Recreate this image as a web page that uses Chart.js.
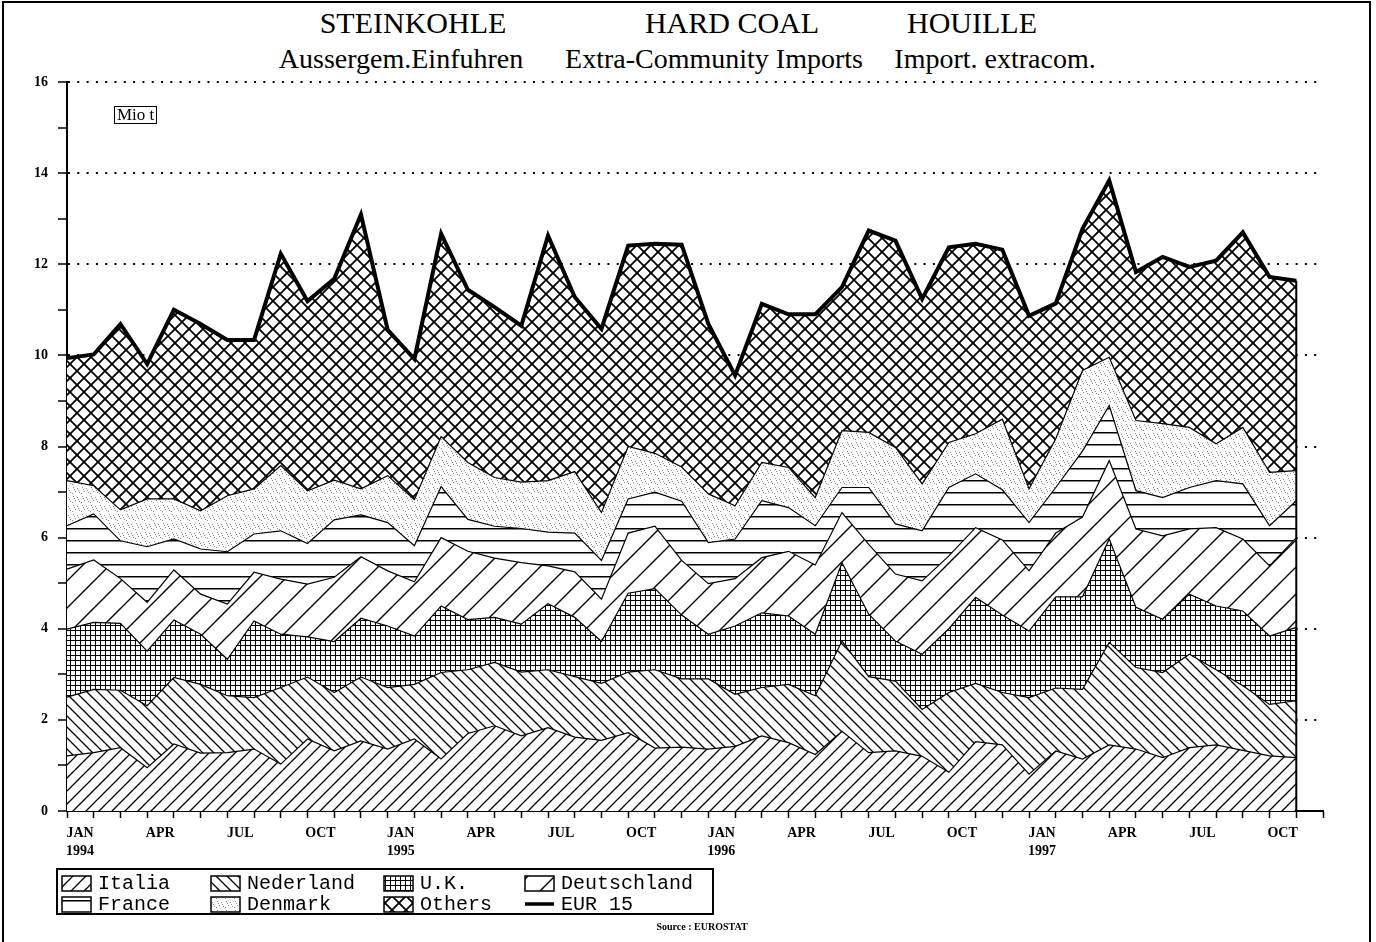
<!DOCTYPE html>
<html>
<head>
<meta charset="utf-8">
<script src="https://cdn.jsdelivr.net/npm/chart.js@4/dist/chart.umd.min.js"></script>
<style>
  html, body { margin: 0; padding: 0; background: #fff; }
  body { width: 1376px; height: 942px; position: relative; overflow: hidden; font-family: "Liberation Serif", serif; color: #000; }
  #frame { position: absolute; left: 2px; top: 1px; width: 1369px; height: 980px; border: 2px solid #000; box-sizing: border-box; }
  #chart { position: absolute; left: 0; top: 0; }
  .t { position: absolute; transform: translateX(-50%); white-space: nowrap; line-height: 1; }
  .title { font-size: 30px; top: 8px; }
  .sub { font-size: 28px; top: 45px; }
  #unit { position: absolute; left: 114px; top: 106px; border: 1.5px solid #000; font-size: 17px; line-height: 16px; padding: 0 2px; }
  #source { position: absolute; left: 702px; top: 921px; transform: translateX(-50%); font-size: 10px; font-weight: bold; white-space: nowrap; }
</style>
</head>
<body>
<div id="frame"></div>
<div class="t title" style="left:413px">STEINKOHLE</div>
<div class="t title" style="left:732px">HARD COAL</div>
<div class="t title" style="left:972px">HOUILLE</div>
<div class="t sub" style="left:401px">Aussergem.Einfuhren</div>
<div class="t sub" style="left:714px">Extra-Community Imports</div>
<div class="t sub" style="left:995px">Import. extracom.</div>
<canvas id="chart" width="1376" height="942"></canvas>
<div id="unit">Mio t</div>
<div id="source">Source : EUROSTAT</div>
<script>
const months = ['JAN','FEB','MAR','APR','MAY','JUN','JUL','AUG','SEP','OCT','NOV','DEC'];
const years = [1994, 1995, 1996, 1997];

// Mio t, Jan 1994 .. Nov 1997 (bottom of the stack first)
const italia      = [1.21,1.28,1.39,0.95,1.47,1.27,1.28,1.36,1.03,1.58,1.32,1.54,1.36,1.58,1.14,1.70,1.87,1.65,1.83,1.62,1.55,1.72,1.38,1.40,1.36,1.42,1.65,1.50,1.24,1.75,1.28,1.32,1.20,0.85,1.52,1.45,0.81,1.32,1.14,1.45,1.36,1.17,1.39,1.45,1.33,1.21,1.17];
const nederland   = [1.29,1.39,1.26,1.36,1.46,1.51,1.25,1.13,1.68,1.36,1.28,1.40,1.35,1.20,1.90,1.40,1.39,1.40,1.27,1.33,1.25,1.33,1.72,1.50,1.54,1.14,1.06,1.28,1.29,1.98,1.67,1.53,1.03,1.75,1.28,1.15,1.68,1.38,1.53,2.25,1.79,1.87,2.05,1.65,1.42,1.13,1.25];
const uk          = [1.49,1.47,1.47,1.20,1.26,1.10,0.80,1.68,1.17,0.88,1.12,1.29,1.35,1.06,1.46,1.10,0.99,1.05,1.45,1.30,0.92,1.73,1.78,1.40,0.98,1.50,1.64,1.50,1.35,1.72,1.37,0.88,1.21,1.40,1.89,1.70,1.46,2.00,2.03,2.27,1.32,1.17,1.32,1.40,1.64,1.50,1.61];
const deutschland = [1.32,1.37,0.98,1.07,1.10,0.88,1.21,1.07,1.21,1.16,1.41,1.35,1.21,1.19,1.50,1.50,1.30,1.35,0.83,1.00,0.93,1.32,1.37,1.20,1.11,1.04,1.21,1.42,1.52,1.10,1.53,1.47,1.61,1.60,1.53,1.65,1.32,1.40,1.75,1.72,1.72,1.83,1.43,1.72,1.58,1.54,1.97];
const france      = [0.95,1.01,0.83,1.22,0.68,0.99,1.15,0.84,1.06,0.89,1.26,0.92,1.06,0.79,1.12,0.70,0.70,0.75,0.74,0.85,0.85,0.75,0.75,1.30,0.90,0.87,1.25,0.96,0.86,0.55,1.25,1.10,1.10,1.50,1.18,1.10,1.06,1.00,1.45,1.21,0.84,0.84,0.91,1.03,1.21,0.88,0.81];
const denmark     = [0.99,0.62,0.68,1.05,0.88,0.84,1.23,0.99,1.43,1.16,0.87,0.57,1.03,1.01,1.10,1.25,1.07,1.02,1.13,1.35,1.05,1.15,0.85,0.75,1.07,0.73,0.84,0.88,0.62,1.25,1.21,1.68,1.03,0.99,0.88,1.55,0.74,1.07,1.77,1.06,1.54,1.62,1.32,0.81,1.24,1.17,0.66];
const others      = [2.69,2.88,4.08,2.96,4.15,4.10,3.42,3.27,4.65,4.16,4.42,6.02,3.20,3.09,4.45,3.79,3.74,3.43,5.38,3.83,4.03,4.41,4.60,4.88,3.73,2.86,3.48,3.36,4.02,3.15,4.43,4.54,4.06,4.28,4.17,3.72,3.80,2.97,3.11,3.88,3.26,3.66,3.52,4.02,4.28,4.29,4.17];
const eur15       = [9.94,10.02,10.69,9.81,11.00,10.69,10.34,10.34,12.23,11.19,11.68,13.09,10.56,9.92,12.67,11.44,11.06,10.65,12.63,11.28,10.58,12.41,12.45,12.43,10.69,9.56,11.13,10.90,10.90,11.50,12.74,12.52,11.24,12.37,12.45,12.32,10.87,11.14,12.78,13.84,11.83,12.16,11.94,12.08,12.70,11.72,11.64];

const labels = [];
years.forEach(yr => months.forEach(m => labels.push(m + ' ' + yr)));

const ctx = document.getElementById('chart').getContext('2d');

function tile(w, h, draw) {
    const c = document.createElement('canvas');
    c.width = w; c.height = h;
    const g = c.getContext('2d');
    g.fillStyle = '#fff';
    g.fillRect(0, 0, w, h);
    g.strokeStyle = '#000';
    g.fillStyle = '#000';
    draw(g, w, h);
    return ctx.createPattern(c, 'repeat');
}

function fwd(g, s, lw) {   // lines like /
    g.lineWidth = lw;
    g.beginPath();
    g.moveTo(0, s); g.lineTo(s, 0);
    g.moveTo(-2, 2); g.lineTo(2, -2);
    g.moveTo(s - 2, s + 2); g.lineTo(s + 2, s - 2);
    g.stroke();
}
function back(g, s, lw) {  // lines like \
    g.lineWidth = lw;
    g.beginPath();
    g.moveTo(0, 0); g.lineTo(s, s);
    g.moveTo(s - 2, -2); g.lineTo(s + 2, 2);
    g.moveTo(-2, s - 2); g.lineTo(2, s + 2);
    g.stroke();
}

const pat_italia = tile(13, 13, (g, w) => fwd(g, w, 1.3));
const pat_nederland = tile(11, 11, (g, w) => back(g, w, 1.3));
const pat_uk = tile(5, 5, (g) => { g.fillRect(0, 0, 5, 1); g.fillRect(0, 0, 1, 5); });
const pat_deutschland = tile(27, 27, (g, w) => fwd(g, w, 1.4));
const pat_france = tile(8, 12, (g) => { g.fillRect(0, 0, 8, 1.5); });
const pat_denmark = tile(9, 9, (g) => {
    g.fillStyle = 'rgba(0,0,0,0.45)';
    [[1,1],[5,2],[3,5],[7,6],[0,7],[6,4],[2,3]].forEach(p => g.fillRect(p[0], p[1], 1, 1));
});
const pat_others = tile(14, 14, (g, w) => { fwd(g, w, 1.8); back(g, w, 1.8); });

function area(label, data, pattern, fill) {
    return {
        label: label,
        data: data,
        stack: 'countries',
        backgroundColor: pattern,
        borderColor: '#000',
        borderWidth: 1.2,
        pointRadius: 0,
        tension: 0,
        fill: fill
    };
}

const legend_items = [
    ['Italia', pat_italia], ['Nederland', pat_nederland], ['U.K.', pat_uk], ['Deutschland', pat_deutschland],
    ['France', pat_france], ['Denmark', pat_denmark], ['Others', pat_others], ['EUR 15', null]
];

const extras = {
    id: 'extras',
    afterDatasetsDraw(chart) {
        const c = chart.ctx;
        const xs = chart.scales.x, ys = chart.scales.y;
        const last = eur15.length - 1;
        const px = xs.getPixelForValue(last);
        c.save();
        c.strokeStyle = '#000';
        c.lineWidth = 2;
        c.beginPath();
        c.moveTo(px, ys.getPixelForValue(0));
        c.lineTo(px, ys.getPixelForValue(eur15[last]));
        c.stroke();
        c.restore();
    },
    afterDraw(chart) {
        const c = chart.ctx;
        c.save();
        c.strokeStyle = '#000';
        c.lineWidth = 2;
        c.strokeRect(57, 869, 656, 45);
        const cols = [62, 211, 384, 525];
        const rows = [876, 897];
        c.font = '20px "Liberation Mono", monospace';
        c.textBaseline = 'middle';
        c.fillStyle = '#000';
        legend_items.forEach((item, i) => {
            const x = cols[i % 4], y = rows[Math.floor(i / 4)];
            if (item[1]) {
                c.fillStyle = item[1];
                c.fillRect(x, y, 29, 15);
                c.lineWidth = 1.5;
                c.strokeRect(x, y, 29, 15);
            } else {
                c.lineWidth = 3.5;
                c.beginPath();
                c.moveTo(x, y + 7); c.lineTo(x + 29, y + 7);
                c.stroke();
            }
            c.fillStyle = '#000';
            c.fillText(item[0], x + 36, y + 8);
        });
        c.restore();
    }
};

const chart = new Chart(ctx, {
    type: 'line',
    data: {
        labels: labels,
        datasets: [
            { label: 'EUR 15', data: eur15, stack: 'total', borderColor: '#000', borderWidth: 4,
              pointRadius: 0, tension: 0, fill: false },
            area('Italia', italia, pat_italia, 'origin'),
            area('Nederland', nederland, pat_nederland, '-1'),
            area('U.K.', uk, pat_uk, '-1'),
            area('Deutschland', deutschland, pat_deutschland, '-1'),
            area('France', france, pat_france, '-1'),
            area('Denmark', denmark, pat_denmark, '-1'),
            area('Others', others, pat_others, '-1')
        ]
    },
    options: {
        responsive: false,
        animation: false,
        events: [],
        layout: { padding: { left: 10, top: 82, right: 53, bottom: 71 } },
        plugins: { legend: { display: false }, tooltip: { enabled: false }, title: { display: false } },
        scales: {
            x: {
                offset: false,
                afterFit: (s) => { s.height = 60; },
                grid: { drawOnChartArea: false, drawTicks: true, tickLength: 7, tickColor: '#000', tickWidth: 1.5 },
                border: { display: true, color: '#000', width: 2 },
                ticks: {
                    autoSkip: false, maxRotation: 0, minRotation: 0, padding: 7, labelOffset: 13,
                    color: '#000',
                    font: { family: 'Liberation Serif', size: 14, weight: 'bold', lineHeight: 1.25 },
                    callback: function(v, i) {
                        if (i % 3 !== 0 || i > 45) return '';
                        const m = months[i % 12];
                        if (m === 'JAN') return [m, String(years[Math.floor(i / 12)])];
                        return m;
                    }
                }
            },
            y: {
                stacked: true,
                min: 0, max: 16,
                afterFit: (s) => { s.width = 57; },
                grid: {
                    color: (c) => (c.tick && c.tick.value % 2 === 0 && c.tick.value > 0) ? '#000' : 'rgba(0,0,0,0)',
                    lineWidth: 2,
                    tickColor: '#000', tickLength: 9, tickWidth: 1.5
                },
                border: { display: true, color: '#000', width: 2, dash: [2, 7.3] },
                ticks: {
                    stepSize: 1, padding: 10, color: '#000',
                    font: { family: 'Liberation Serif', size: 14, weight: 'bold' },
                    callback: (v) => (v % 2 === 0 ? v : '')
                }
            }
        }
    },
    plugins: [extras]
});
</script>
</body>
</html>
